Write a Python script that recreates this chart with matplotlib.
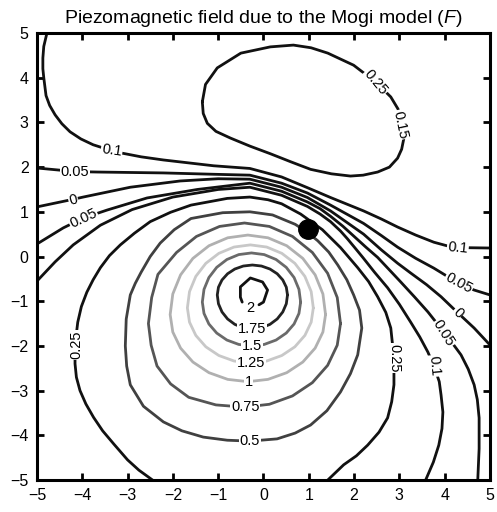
import matplotlib
matplotlib.use("Agg")
from matplotlib import pyplot as plt

plt.rcParams['font.family'] = ['Liberation Sans', 'DejaVu Sans']
plt.rcParams['mathtext.fontset'] = 'custom'
plt.rcParams['mathtext.it'] = 'Liberation Sans:italic'
plt.rcParams['mathtext.rm'] = 'Liberation Sans'

# contour lines, (x, y) in km

# open lines, top / left side -> right / bottom
line_010_up = [(-4.78, 5.0), (-4.85, 4.7), (-4.87, 4.44), (-4.87, 4.2), (-4.85, 4.0), (-4.8, 3.6),
               (-4.72, 3.38), (-4.6, 3.17), (-4.45, 2.97), (-4.27, 2.79), (-4.03, 2.63), (-3.76, 2.5),
               (-3.45, 2.4), (-3.16, 2.32), (-2.7, 2.23), (-2.21, 2.16), (-1.1, 2.03), (-0.3, 1.97),
               (0.4, 1.78), (0.97, 1.54), (1.48, 1.32), (2.21, 1.02), (2.6, 0.84), (2.96, 0.66),
               (3.36, 0.48), (3.76, 0.32), (4.05, 0.24), (4.29, 0.2), (5.0, 0.19)]
line_005_up = [(-5.0, 1.98), (-4.16, 1.9), (-3.67, 1.89), (-2.21, 1.87), (-1.1, 1.84), (-0.3, 1.82),
               (0.4, 1.64), (0.97, 1.42), (1.48, 1.15), (2.21, 0.74), (2.6, 0.47), (2.96, 0.21),
               (3.36, -0.04), (3.76, -0.26), (4.31, -0.6), (4.65, -0.75), (5.0, -0.86)]
line_000 = [(-5.0, 1.11), (-4.2, 1.28), (-3.98, 1.33), (-2.94, 1.55), (-1.84, 1.69), (-1.0, 1.74),
            (-0.3, 1.73), (0.4, 1.55), (0.97, 1.32), (1.48, 1.02), (2.21, 0.5), (2.6, 0.15),
            (2.96, -0.15), (3.25, -0.37), (3.6, -0.63), (3.92, -0.9), (4.29, -1.26), (4.65, -1.6),
            (5.0, -1.98)]
line_005_lo = [(-5.0, 0.28), (-4.42, 0.64), (-3.98, 0.86), (-3.45, 1.04), (-2.57, 1.31), (-1.46, 1.5),
               (-0.3, 1.64), (0.4, 1.46), (0.97, 1.22), (1.25, 1.07), (1.48, 0.9), (1.75, 0.68),
               (2.0, 0.45), (2.26, 0.21), (2.52, -0.02), (2.78, -0.3), (3.03, -0.57), (3.33, -0.9),
               (3.63, -1.24), (3.98, -1.69), (4.2, -1.98), (4.36, -2.2), (4.52, -2.52), (4.65, -2.87),
               (4.72, -3.2), (4.76, -3.61), (4.76, -4.3), (4.73, -5.0)]
line_010_lo = [(-5.0, -0.55), (-4.6, -0.12), (-4.2, 0.26), (-3.6, 0.7), (-2.9, 1.05), (-2.0, 1.33),
               (-1.0, 1.5), (-0.3, 1.55), (0.4, 1.37), (0.97, 1.12), (1.25, 0.95), (1.48, 0.78),
               (1.7, 0.57), (1.85, 0.4), (2.03, 0.18), (2.2, -0.03), (2.45, -0.35), (2.74, -0.7),
               (3.0, -1.07), (3.25, -1.47), (3.45, -1.8), (3.63, -2.14), (3.78, -2.5), (3.88, -2.8),
               (3.92, -3.1), (3.96, -3.48), (3.94, -3.85), (3.87, -4.22), (3.75, -4.6), (3.58, -5.0)]
line_025 = [(-2.45, -5.0), (-2.75, -4.78), (-3.0, -4.55), (-3.3, -4.2), (-3.55, -3.9), (-3.75, -3.6),
            (-3.92, -3.3), (-4.05, -3.0), (-4.13, -2.7), (-4.16, -2.4), (-4.16, -1.98), (-4.1, -1.47),
            (-4.02, -1.12), (-3.9, -0.8), (-3.76, -0.52), (-3.6, -0.25), (-3.4, 0.02), (-3.16, 0.26),
            (-2.85, 0.52), (-2.5, 0.78), (-2.05, 0.99), (-1.6, 1.15), (-0.8, 1.3), (-0.3, 1.33),
            (0.1, 1.27), (0.4, 1.18), (0.82, 0.95), (1.3, 0.6), (1.7, 0.2), (2.08, -0.25),
            (2.32, -0.56), (2.52, -0.9), (2.7, -1.25), (2.81, -1.6), (2.88, -2.27), (2.88, -2.87),
            (2.83, -3.25), (2.74, -3.61), (2.55, -3.93), (2.3, -4.22), (2.05, -4.46), (1.77, -4.66),
            (1.42, -5.0)]

# closed loops
loop_top = [(-1.35, 3.46), (-1.28, 3.85), (-1.02, 4.22), (-0.5, 4.55), (0.15, 4.69), (0.66, 4.73),
            (1.05, 4.67), (1.42, 4.55), (1.99, 4.28), (2.48, 3.9), (2.81, 3.57), (2.97, 3.3),
            (3.05, 3.0), (3.1, 2.65), (3.05, 2.4), (2.96, 2.2), (2.78, 2.0), (2.52, 1.89),
            (2.2, 1.82), (1.92, 1.8), (1.5, 1.85), (1.04, 1.95), (0.6, 2.12), (0.15, 2.3),
            (-0.3, 2.47), (-0.73, 2.65), (-1.05, 2.8), (-1.24, 2.98), (-1.33, 3.2), (-1.35, 3.46)]
ring_050 = [(-0.3, -4.13), (0.3, -4.08), (0.7, -3.95), (1.04, -3.77), (1.4, -3.45), (1.7, -3.03),
            (1.92, -2.62), (2.08, -2.2), (2.17, -1.6), (2.12, -1.2), (1.99, -0.86), (1.84, -0.52),
            (1.64, -0.19), (1.44, 0.1), (1.2, 0.35), (0.96, 0.55), (0.7, 0.72), (0.2, 0.93),
            (-0.3, 1.0), (-0.9, 0.98), (-1.6, 0.85), (-1.97, 0.6), (-2.28, 0.3), (-2.5, 0.0),
            (-2.7, -0.35), (-2.83, -0.6), (-2.94, -0.86), (-3.03, -1.4), (-3.05, -2.0),
            (-3.02, -2.45), (-2.94, -2.87), (-2.65, -3.35), (-2.21, -3.7), (-1.8, -3.9),
            (-1.33, -4.04), (-0.8, -4.11), (-0.3, -4.13)]
ring_075 = [(1.7, -1.5), (1.628, -0.917), (1.416, -0.375), (1.079, 0.091), (0.64, 0.449),
            (0.129, 0.673), (-0.42, 0.75), (-0.969, 0.673), (-1.48, 0.449), (-1.919, 0.091),
            (-2.33, -0.4), (-2.468, -0.917), (-2.54, -1.5), (-2.48, -1.984), (-2.35, -2.45),
            (-2.05, -2.85), (-1.65, -3.15), (-1.05, -3.32), (-0.42, -3.37), (0.129, -3.306),
            (0.64, -3.119), (1.079, -2.822), (1.416, -2.435), (1.628, -1.984), (1.7, -1.5)]
ring_100 = [(1.37, -1.3), (1.312, -0.839), (1.14, -0.41), (0.868, -0.042), (0.513, 0.241),
            (0.099, 0.419), (-0.345, 0.48), (-0.789, 0.419), (-1.203, 0.241), (-1.558, -0.042),
            (-1.83, -0.41), (-2.002, -0.839), (-2.06, -1.3), (-2.002, -1.689), (-1.83, -2.05),
            (-1.558, -2.361), (-1.203, -2.599), (-0.789, -2.749), (-0.345, -2.8), (0.099, -2.749),
            (0.513, -2.599), (0.868, -2.361), (1.14, -2.05), (1.312, -1.689), (1.37, -1.3)]
ring_125 = [(1.1, -1.15), (1.053, -0.785), (0.914, -0.445), (0.693, -0.153), (0.405, 0.071),
            (0.07, 0.212), (-0.29, 0.26), (-0.65, 0.212), (-0.985, 0.071), (-1.273, -0.153),
            (-1.494, -0.445), (-1.633, -0.785), (-1.68, -1.15), (-1.633, -1.469), (-1.494, -1.765),
            (-1.273, -2.02), (-0.985, -2.215), (-0.65, -2.338), (-0.29, -2.38), (0.07, -2.338),
            (0.405, -2.215), (0.693, -2.02), (0.914, -1.765), (1.053, -1.469), (1.1, -1.15)]
ring_150 = [(0.82, -1.02), (0.783, -0.735), (0.675, -0.47), (0.502, -0.242), (0.278, -0.067),
            (0.016, 0.043), (-0.265, 0.08), (-0.546, 0.043), (-0.808, -0.067), (-1.032, -0.242),
            (-1.205, -0.47), (-1.313, -0.735), (-1.35, -1.02), (-1.313, -1.274), (-1.205, -1.51),
            (-1.032, -1.713), (-0.808, -1.869), (-0.546, -1.967), (-0.265, -2.0), (0.016, -1.967),
            (0.278, -1.869), (0.502, -1.713), (0.675, -1.51), (0.783, -1.274), (0.82, -1.02)]
ring_175 = [(0.53, -0.86), (0.504, -0.687), (0.426, -0.525), (0.303, -0.386), (0.143, -0.28),
            (-0.044, -0.213), (-0.245, -0.19), (-0.446, -0.213), (-0.633, -0.28), (-0.793, -0.386),
            (-0.916, -0.525), (-0.994, -0.687), (-1.02, -0.86), (-0.994, -1.057), (-0.916, -1.24),
            (-0.793, -1.397), (-0.633, -1.518), (-0.446, -1.594), (-0.245, -1.62), (-0.044, -1.594),
            (0.143, -1.518), (0.303, -1.397), (0.426, -1.24), (0.504, -1.057), (0.53, -0.86)]
ring_200 = [(-0.47, -1.02), (-0.51, -0.91), (-0.51, -0.68), (-0.29, -0.48), (-0.02, -0.57),
            (0.09, -0.75), (0.0, -1.02), (-0.1, -1.08)]

curves = [line_010_up, line_005_up, line_000, line_005_lo, line_010_lo, line_025, loop_top,
          ring_050, ring_075, ring_100, ring_125, ring_150, ring_175, ring_200]
colors = ['#111111', '#111111', '#111111', '#111111', '#111111', '#111111', '#111111',
          '#404040', '#555555', '#b0b0b0', '#c8c8c8', '#6a6a6a', '#222222', '#111111']

# inline labels: text, x, y, rotation
label_txt = ['0.1', '0.05', '0', '0.05', '0.25', '0.1', '0.05', '0', '0.05', '0.1', '0.25',
             '0.25', '0.15', '2', '1.75', '1.5', '1.25', '1', '0.75', '0.5']
label_x = [-3.35, -4.16, -4.2, -3.98, -4.14, 4.29, 4.31, 4.29, 3.98, 3.76, 2.88,
           2.48, 3.03, -0.29, -0.25, -0.25, -0.27, -0.33, -0.4, -0.3]
label_y = [2.38, 1.9, 1.27, 0.86, -1.98, 0.2, -0.6, -1.26, -1.72, -2.45, -2.27,
           3.9, 2.95, -1.15, -1.62, -2.0, -2.38, -2.8, -3.37, -4.13]
label_rot = [-8, 0, 15, 25, 90, -5, -28, -45, -58, -85, -90,
             -50, -78, 0, 0, 0, 0, 0, 0, 0]

dot_x = [0.99]
dot_y = [0.62]

fig = plt.figure(figsize=(4.97, 5.12), dpi=100)
ax = fig.add_axes([0.0744, 0.0625, 0.9115, 0.873])

for c, col in zip(curves, colors):
    xs = [p[0] for p in c]
    ys = [p[1] for p in c]
    ax.plot(xs, ys, color=col, lw=2.0, solid_joinstyle='round', solid_capstyle='round')

for t, x, y, r in zip(label_txt, label_x, label_y, label_rot):
    ax.text(x, y, t, rotation=r, fontsize=10.5, ha='center', va='center',
            rotation_mode='anchor',
            bbox=dict(facecolor='white', edgecolor='none', pad=0.5))

ax.plot(dot_x, dot_y, 'o', color='black', markersize=14)

ax.set_xlim(-5, 5)
ax.set_ylim(-5, 5)
ax.set_xticks(range(-5, 6))
ax.set_yticks(range(-5, 6))
ax.tick_params(direction='in', length=5, width=2, top=True, right=True, labelsize=11.5, pad=6)
for s in ax.spines.values():
    s.set_linewidth(2.2)
ax.set_title('Piezomagnetic field due to the Mogi model ($\\mathit{F}$)', fontsize=14, pad=7)

fig.savefig('out.png', dpi=100)
